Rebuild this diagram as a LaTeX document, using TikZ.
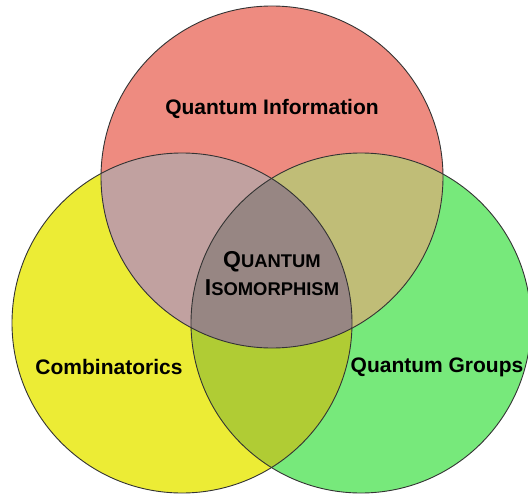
\documentclass[tikz,border=0pt]{standalone}
\usepackage{fontspec}
\setmainfont{Liberation Sans}
\definecolor{cred}{HTML}{EE8B80}
\definecolor{cyel}{HTML}{ECEC35}
\definecolor{cgrn}{HTML}{77E97B}
\definecolor{cry}{HTML}{C1A1A0}
\definecolor{crg}{HTML}{C0BD77}
\definecolor{cyg}{HTML}{B0CC34}
\definecolor{call}{HTML}{978683}
\definecolor{cline}{HTML}{333333}
\tikzset{
  edge/.style={draw=cline, line width=0.9pt},
  lbl/.style={font=\bfseries\fontsize{21}{24}\selectfont, text=black, inner sep=0pt},
  core/.style={font=\bfseries, text=black, inner sep=0pt, align=center}
}
\begin{document}
\begin{tikzpicture}[x=1pt,y=-1pt]
\useasboundingbox (0,0) rectangle (528,495);
\begin{scope}
\clip (0,0) rectangle (528,495);
\coordinate (R) at (272,177);
\coordinate (Y) at (182,323);
\coordinate (G) at (361,323);
\def\rr{171}\def\ry{170}
% base fills
\fill[cyel] (Y) circle[radius=\ry];
\fill[cgrn] (G) circle[radius=\ry];
\fill[cred] (R) circle[radius=\rr];
% pairwise overlaps
\begin{scope}\clip (Y) circle[radius=\ry]; \fill[cyg] (G) circle[radius=\ry];\end{scope}
\begin{scope}\clip (Y) circle[radius=\ry]; \fill[cry] (R) circle[radius=\rr];\end{scope}
\begin{scope}\clip (G) circle[radius=\ry]; \fill[crg] (R) circle[radius=\rr];\end{scope}
\begin{scope}\clip (Y) circle[radius=\ry]; \clip (G) circle[radius=\ry]; \fill[call] (R) circle[radius=\rr];\end{scope}
% outlines
\draw[edge] (Y) circle[radius=\ry];
\draw[edge] (G) circle[radius=\ry];
\draw[edge] (R) circle[radius=\rr];
\end{scope}
\node[lbl] (qi) at (272,109) {Quantum Information};
\node[lbl] (co) at (109,367) {Combinatorics};
\node[lbl] (qg) at (437,367) {Quantum Groups};
\node[core, anchor=base] (l1) at (272,267) {{\fontsize{23}{26}\selectfont Q}{\fontsize{18.4}{22}\selectfont UANTUM}};
\node[core, anchor=base] (l2) at (272,295) {{\fontsize{23}{26}\selectfont I}{\fontsize{18.4}{22}\selectfont SOMORPHISM}};
\end{tikzpicture}
\end{document}
